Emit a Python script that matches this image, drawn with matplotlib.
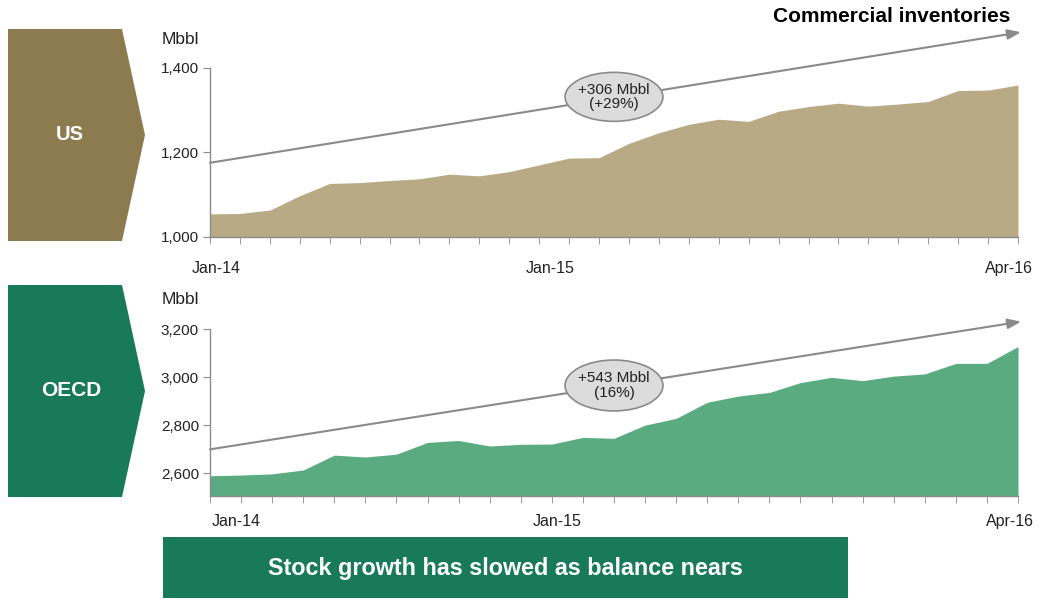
import matplotlib
matplotlib.use("Agg")
import matplotlib.pyplot as plt
from matplotlib.patches import Ellipse, Polygon, Rectangle
from matplotlib.ticker import FuncFormatter, FixedLocator

plt.rcParams['font.family'] = ['Liberation Sans', 'DejaVu Sans']

# ---- data ----
us_months = ["Jan-14", "Feb-14", "Mar-14", "Apr-14", "May-14", "Jun-14", "Jul-14", "Aug-14",
             "Sep-14", "Oct-14", "Nov-14", "Dec-14", "Jan-15", "Feb-15", "Mar-15", "Apr-15",
             "May-15", "Jun-15", "Jul-15", "Aug-15", "Sep-15", "Oct-15", "Nov-15", "Dec-15",
             "Jan-16", "Feb-16", "Mar-16", "Apr-16"]
us_values = [1054, 1055, 1063, 1097, 1126, 1128, 1133, 1137, 1148, 1144, 1154, 1170,
             1186, 1187, 1221, 1246, 1266, 1278, 1273, 1297, 1308, 1316, 1309, 1314,
             1320, 1346, 1347, 1359]
oecd_values = [2590, 2593, 2598, 2614, 2676, 2668, 2680, 2729, 2737, 2714, 2721, 2722,
               2750, 2746, 2801, 2829, 2896, 2922, 2937, 2978, 3000, 2986, 3005, 3014,
               3058, 3058, 3128]
x_labels = ["Jan-14", "Jan-15", "Apr-16"]
us_yticks = [1000, 1200, 1400]
oecd_yticks = [2600, 2800, 3000, 3200]
us_note = "+306 Mbbl\n(+29%)"
oecd_note = "+543 Mbbl\n(16%)"
us_arrow = [(0, 1175), (27.1, 1484)]
oecd_arrow = [(0, 2700), (26.1, 3232)]

US_DARK = "#8C7B4F"
US_FILL = "#B9AA86"
OECD_DARK = "#187A58"
OECD_FILL = "#5AAB80"
GRAY = "#8A8A8A"
TXT = "#222222"

fig = plt.figure(figsize=(10.48, 6.0), dpi=100)

# decoration layer in pixel coordinates
deco = fig.add_axes([0, 0, 1, 1], zorder=0)
deco.set_xlim(0, 1048)
deco.set_ylim(600, 0)
deco.axis("off")
deco.add_patch(Polygon([(8, 29), (122, 29), (145, 135), (122, 241), (8, 241)],
                       closed=True, facecolor=US_DARK, edgecolor="none"))
deco.text(70, 135, "US", color="white", fontsize=14.5, fontweight="bold",
          ha="center", va="center")
deco.add_patch(Polygon([(8, 285), (122, 285), (145, 391), (122, 497), (8, 497)],
                       closed=True, facecolor=OECD_DARK, edgecolor="none"))
deco.text(71, 391, "OECD", color="white", fontsize=15, fontweight="bold",
          ha="center", va="center")
deco.add_patch(Rectangle((163, 537), 685, 61, facecolor=OECD_DARK, edgecolor="none"))
deco.text(505, 568, "Stock growth has slowed as balance nears", color="white",
          fontsize=16.8, fontweight="bold", ha="center", va="center")
deco.text(1010, 16, "Commercial inventories", color="black", fontsize=15,
          fontweight="bold", ha="right", va="center")
deco.text(162, 40, "Mbbl", fontsize=12.5, ha="left", va="center", color=TXT)
deco.text(162, 299, "Mbbl", fontsize=12.5, ha="left", va="center", color=TXT)


def style_axes(ax, n, yticks, ylim, label_pos, label_pad):
    x = list(range(n))
    ax.set_xlim(0, n - 1)
    ax.set_ylim(*ylim)
    for s in ["top", "right"]:
        ax.spines[s].set_visible(False)
    for s in ["left", "bottom"]:
        ax.spines[s].set_color(GRAY)
        ax.spines[s].set_linewidth(1.0)
    ax.set_yticks(yticks)
    ax.yaxis.set_major_formatter(FuncFormatter(lambda v, p: f"{int(v):,}"))
    ax.tick_params(axis="y", length=5, color=GRAY, labelsize=11,
                   labelcolor=TXT, pad=3)
    ax.xaxis.set_major_locator(FixedLocator(label_pos))
    ax.set_xticklabels(x_labels)
    ax.xaxis.set_minor_locator(FixedLocator(x))
    ax.tick_params(axis="x", which="major", length=0, labelsize=11.5,
                   labelcolor=TXT, pad=label_pad)
    ax.tick_params(axis="x", which="minor", length=5, color=GRAY)
    ax.patch.set_alpha(0)


# ---- US ----
ax1 = fig.add_axes([210 / 1048, 1 - 236.7 / 600, 808 / 1048, 169 / 600], zorder=2)
xu = list(range(len(us_values)))
ax1.fill_between(xu, us_values, 1000, color=US_FILL, linewidth=0)
style_axes(ax1, len(us_values), us_yticks, (1000, 1400), [0.2, 11.36, 26.7], 17.5)
ax1.annotate("", xy=us_arrow[1], xytext=us_arrow[0], annotation_clip=False,
             arrowprops=dict(arrowstyle="-|>,head_length=0.8,head_width=0.3",
                             color=GRAY, lw=1.5, shrinkA=0, shrinkB=0))
e1 = Ellipse((13.5, 1331), 3.27, 116, facecolor="#DCDCDC", edgecolor=GRAY,
             linewidth=1.2, zorder=5, clip_on=False)
ax1.add_patch(e1)
ax1.text(13.5, 1331, us_note, ha="center", va="center", fontsize=11,
         color=TXT, zorder=6, linespacing=1.05)

# ---- OECD ----
ax2 = fig.add_axes([210 / 1048, 1 - 495.7 / 600, 808 / 1048, 166.4 / 600], zorder=2)
xo = list(range(len(oecd_values)))
ax2.fill_between(xo, oecd_values, 2507, color=OECD_FILL, linewidth=0)
style_axes(ax2, len(oecd_values), oecd_yticks, (2507, 3200), [0.84, 11.17, 25.75], 13.5)
ax2.annotate("", xy=oecd_arrow[1], xytext=oecd_arrow[0], annotation_clip=False,
             arrowprops=dict(arrowstyle="-|>,head_length=0.8,head_width=0.3",
                             color=GRAY, lw=1.5, shrinkA=0, shrinkB=0))
e2 = Ellipse((13.0, 2966), 3.15, 212, facecolor="#DCDCDC", edgecolor=GRAY,
             linewidth=1.2, zorder=5, clip_on=False)
ax2.add_patch(e2)
ax2.text(13.0, 2966, oecd_note, ha="center", va="center", fontsize=11,
         color=TXT, zorder=6, linespacing=1.05)

fig.savefig("out.png", dpi=100, facecolor="white")
